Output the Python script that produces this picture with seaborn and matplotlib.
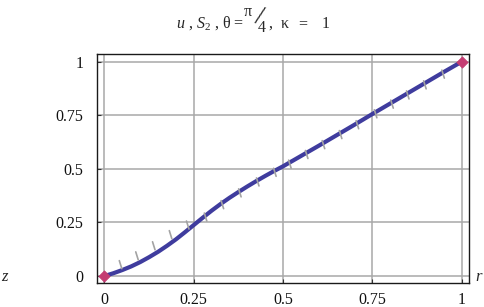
import numpy as np
import pandas as pd
import matplotlib
matplotlib.use('Agg')
import matplotlib.pyplot as plt
import seaborn as sns

# curve z(r)
r_vals = [0, 0.025, 0.05, 0.075, 0.1, 0.125, 0.15, 0.175, 0.2, 0.225, 0.25,
          0.275, 0.3, 0.325, 0.35, 0.375, 0.4, 0.425, 0.45, 0.475, 0.5,
          0.55, 0.6, 0.65, 0.7, 0.75, 0.8, 0.85, 0.9, 0.95, 1.0]
z_vals = [0, 0.013, 0.028, 0.045, 0.065, 0.088, 0.113, 0.141, 0.171, 0.204, 0.238,
          0.272, 0.305, 0.336, 0.365, 0.392, 0.418, 0.443, 0.467, 0.49, 0.512,
          0.56, 0.608, 0.657, 0.706, 0.756, 0.805, 0.854, 0.903, 0.952, 1.0]

# short director marks along the curve (centres)
mark_r = [0.045, 0.091, 0.138, 0.185, 0.233, 0.283, 0.330, 0.379, 0.429, 0.477,
          0.519, 0.566, 0.613, 0.661, 0.708, 0.759, 0.805, 0.849, 0.897, 0.948]
mark_z = [0.053, 0.094, 0.141, 0.193, 0.238, 0.275, 0.333, 0.388, 0.439, 0.484,
          0.522, 0.567, 0.613, 0.660, 0.706, 0.757, 0.802, 0.845, 0.892, 0.942]

# end points
end_r = [0, 1]
end_z = [0, 1]

ticks = [0, 0.25, 0.5, 0.75, 1]
tick_labels = ['0', '0.25', '0.5', '0.75', '1']

sns.set_theme(style='whitegrid')
plt.rcParams['font.family'] = ['Liberation Serif', 'DejaVu Serif']
plt.rcParams['mathtext.fontset'] = 'custom'
plt.rcParams['mathtext.rm'] = 'Liberation Serif'
plt.rcParams['mathtext.it'] = 'Liberation Serif:italic'

W, H = 484, 307
fig = plt.figure(figsize=(W / 100, H / 100), dpi=100, facecolor='white')
ax = fig.add_axes([96.7 / W, 1 - 283.3 / H, (469.3 - 96.7) / W, (283.3 - 54.3) / H])
ax.set_facecolor('white')

df = pd.DataFrame({'r': r_vals, 'z': z_vals})
sns.lineplot(data=df, x='r', y='z', sort=False, estimator=None, ax=ax,
             color='#3f3c9e', linewidth=3, zorder=3,
             solid_joinstyle='round', solid_capstyle='round')

# marks: slightly tilted short segments
dr, dz = 0.0035, 0.0187
for mr, mz in zip(mark_r, mark_z):
    ax.plot([mr - dr, mr + dr], [mz + dz, mz - dz], color='#a3a3a3', lw=1.2, zorder=4)

ends = pd.DataFrame({'r': end_r, 'z': end_z})
sns.scatterplot(data=ends, x='r', y='z', ax=ax, marker='D', s=34, color='#c43c72',
                edgecolor='#c43c72', zorder=5, clip_on=False)

ax.set_xlim(-0.0218, 1.0213)
ax.set_ylim(-0.034, 1.0345)
ax.set_xticks(ticks)
ax.set_xticklabels(tick_labels)
ax.set_yticks(ticks)
ax.set_yticklabels(tick_labels)
ax.set_xlabel('')
ax.set_ylabel('')
ax.grid(True, color='#a8a8a8', linewidth=1.1)
for s in ax.spines.values():
    s.set_visible(True)
    s.set_color('#1a1a1a')
    s.set_linewidth(1.0)
ax.tick_params(axis='both', direction='in', length=3, width=0.8, color='#333333',
               labelsize=11.5, labelcolor='#111111', bottom=True, left=True)
ax.tick_params(axis='y', pad=9.5)
ax.tick_params(axis='x', pad=6.5)

# axis names
fig.text(1 / W, 1 - 281 / H, r'$z$', fontsize=12, ha='left', va='baseline')
fig.text(475 / W, 1 - 281 / H, r'$r$', fontsize=12, ha='left', va='baseline')

# title, pieced together to get the slanted fraction
fs = 11.5
fig.text(244 / W, 1 - 28 / H, r'$u$ , $S_2$ , θ =', fontsize=fs, ha='right', va='baseline')
fig.text(247.5 / W, 1 - 16 / H, 'π', fontsize=fs, ha='center', va='baseline')
fig.text(259 / W, 1 - 17.5 / H, '/', fontsize=20, ha='center', va='center',
         rotation=-14, rotation_mode='anchor')
fig.text(262 / W, 1 - 32 / H, '4', fontsize=fs, ha='center', va='baseline')
fig.text(269 / W, 1 - 28 / H, ',  κ', fontsize=fs, ha='left', va='baseline')
fig.text(298 / W, 1 - 28 / H, '=', fontsize=fs, ha='left', va='baseline')
fig.text(322 / W, 1 - 28 / H, '1', fontsize=fs, ha='left', va='baseline')

fig.savefig('out.png', dpi=100)
